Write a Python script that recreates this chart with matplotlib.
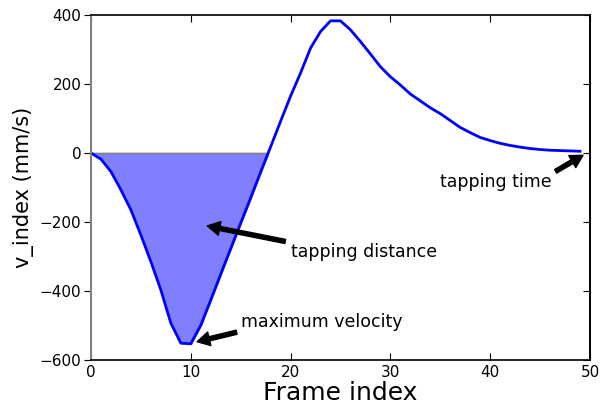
import numpy as np
import matplotlib
matplotlib.use("Agg")
import matplotlib.pyplot as plt

frames = np.arange(0, 50)
v_index = np.array([
    0, -18, -54, -107, -165, -238, -315, -397, -493, -551,
    -553, -499, -426, -351, -277, -203, -130, -55, 18, 92,
    165, 232, 304, 352, 383, 383, 357, 323, 287, 250,
    221, 197, 171, 151, 131, 114, 94, 74, 59, 45,
    36, 28, 22, 17, 13, 10, 8, 7, 6, 5,
])

xticks = [0, 10, 20, 30, 40, 50]
yticks = [-600, -400, -200, 0, 200, 400]

fig = plt.figure(figsize=(6.01, 4.15), dpi=100)
ax = fig.add_axes([0.1514, 0.1325, 0.8303, 0.8314])

ax.fill_between(frames, v_index, 0, where=v_index <= 0, interpolate=True,
                facecolor='#8080ff', edgecolor='gray', linewidth=1.2, zorder=1)
ax.plot(frames, v_index, color='#0000ff', linewidth=2, zorder=2)

ax.set_xlim(0, 50)
ax.set_ylim(-600, 400)
ax.set_xticks(xticks)
ax.set_yticks(yticks)
ax.tick_params(axis='x', labelsize=11, direction='in', length=5, top=True)
ax.tick_params(axis='y', labelsize=11, direction='out', length=5,
               left=True, right=False, pad=2)
# inward ticks on the right side
ax2 = ax.secondary_yaxis('right')
ax2.set_yticks(yticks)
ax2.tick_params(direction='in', length=5, labelright=False)
for s in ['top', 'right', 'bottom']:
    ax.spines[s].set_linewidth(1.2)
ax2.spines['right'].set_linewidth(1.2)
ax.spines['left'].set_color('gray')
ax.spines['left'].set_linewidth(1.5)

ax.set_xlabel('Frame index', fontsize=18, labelpad=1)
ax.set_ylabel('v_index (mm/s)', fontsize=15, labelpad=4)

arrow = dict(facecolor='black', edgecolor='black', width=3, headwidth=10,
             headlength=9, shrink=0.03)
ax.annotate('maximum velocity', xy=(10.5, -548), xytext=(15, -505),
            fontsize=12.5, arrowprops=arrow)
ax.annotate('tapping distance', xy=(11.4, -210), xytext=(20, -300),
            fontsize=12.5, arrowprops=arrow)
ax.annotate('tapping time', xy=(49.4, -5), xytext=(35, -100),
            fontsize=12.5, arrowprops=arrow)

fig.savefig('out.png', dpi=100)
